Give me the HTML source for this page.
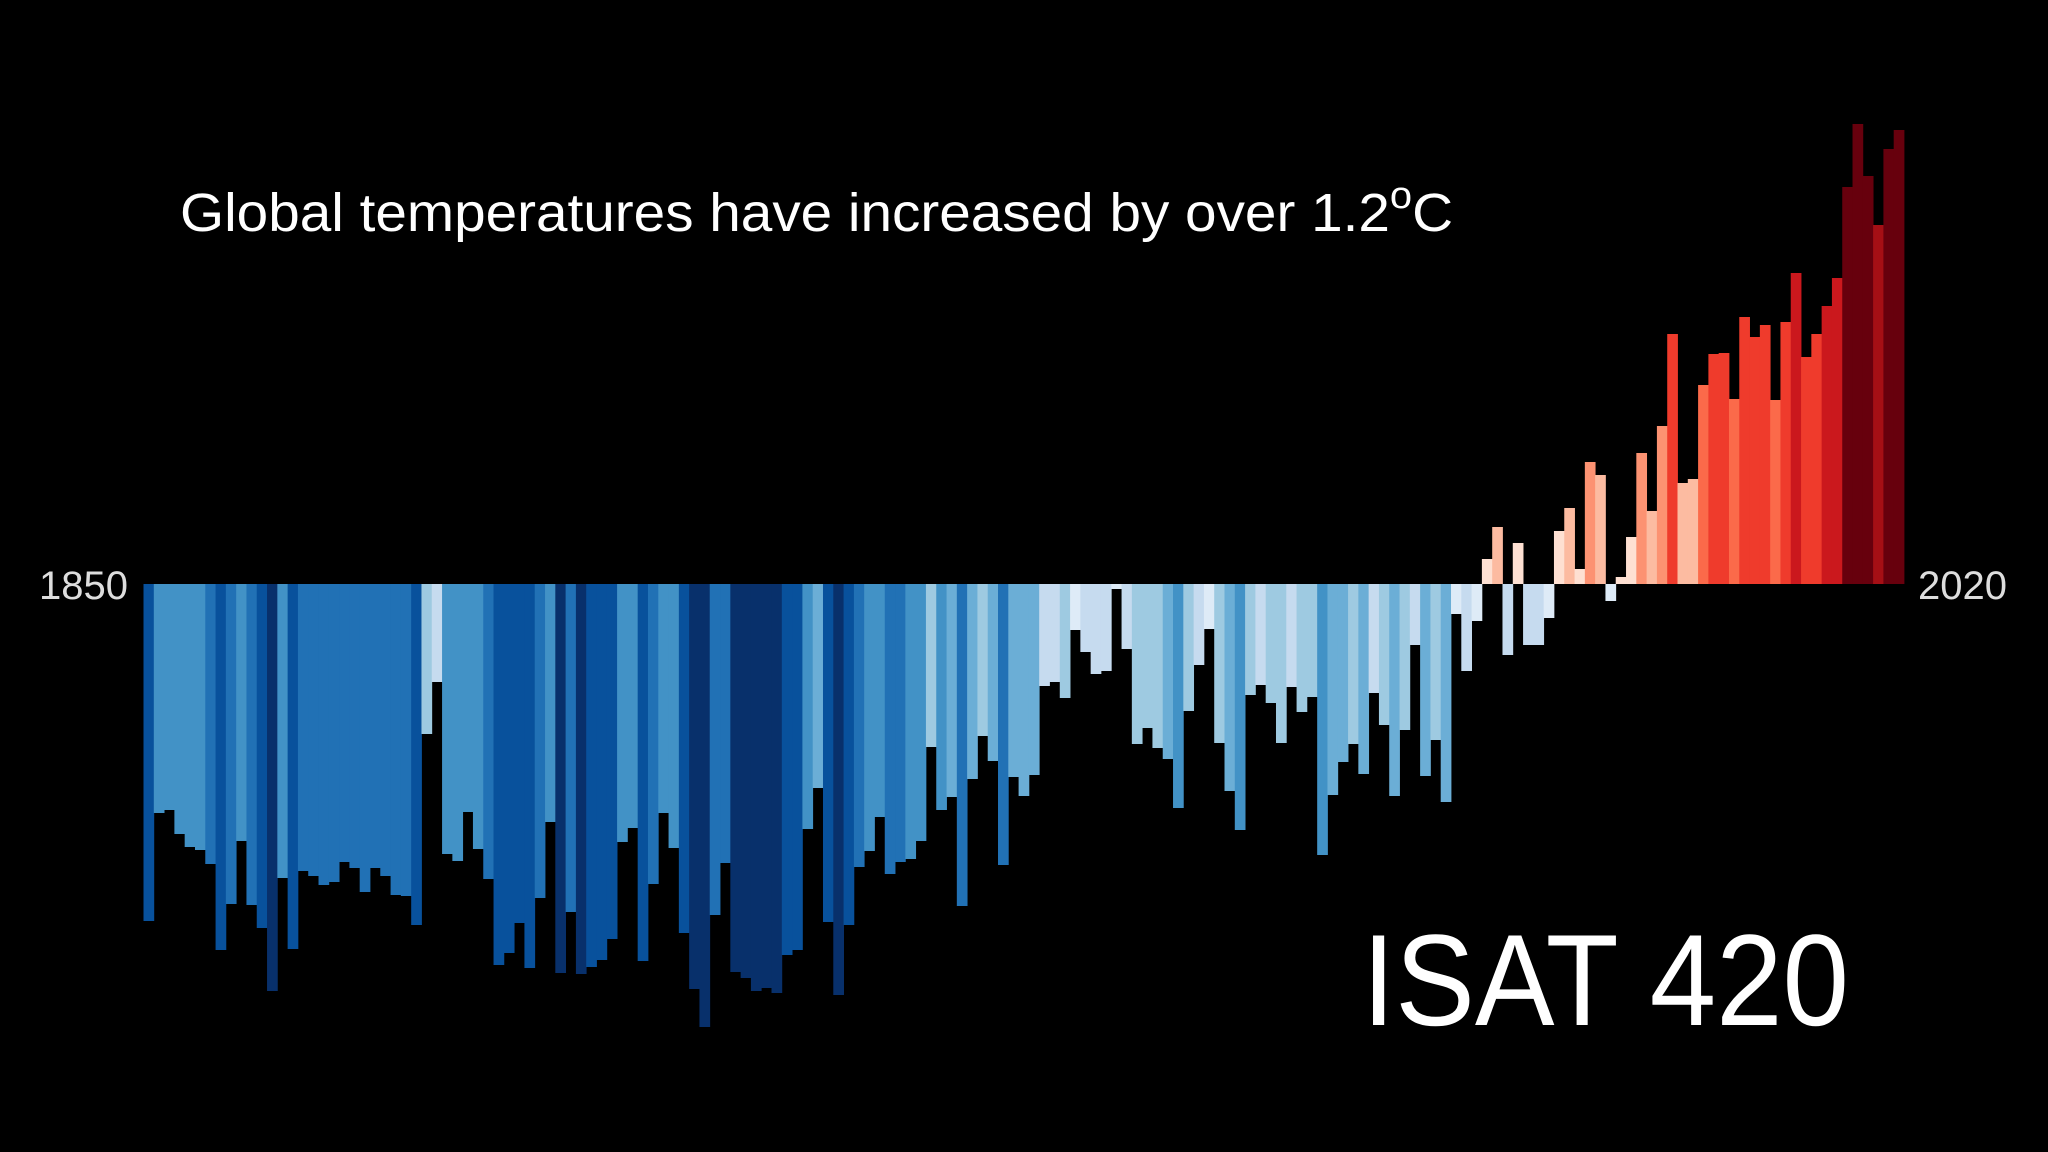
<!DOCTYPE html>
<html><head><meta charset="utf-8"><style>
html,body{margin:0;padding:0;background:#000;width:2048px;height:1152px;overflow:hidden}
svg{display:block}
</style></head><body>
<svg id="s" width="2048" height="1152" viewBox="0 0 2048 1152" xmlns="http://www.w3.org/2000/svg">
<rect width="2048" height="1152" fill="#000"/>
<g id="bars"></g>
<text x="180" y="231" fill="#fff" font-family="Liberation Sans, sans-serif" font-size="54" textLength="1273" lengthAdjust="spacingAndGlyphs">Global temperatures have increased by over 1.2<tspan font-size="38" dy="-23">o</tspan><tspan dy="23">C</tspan></text>
<text x="128" y="599" fill="#ddd" font-family="Liberation Sans, sans-serif" font-size="40" text-anchor="end">1850</text>
<text x="1918" y="599" fill="#ddd" font-family="Liberation Sans, sans-serif" font-size="40">2020</text>
<text x="1362" y="1025" fill="#fff" font-family="Liberation Sans, sans-serif" font-size="130" textLength="487" lengthAdjust="spacingAndGlyphs">ISAT 420</text>
</svg>
<script>
var Y=[921,813,810,834,847,850,864,950,904,841,905,928,991,878,949,871,876,885,882,862,868,892,868,876,895,896,925,734,682,854,861,812,849,879,965,953,923,968,898,822,973,912,974,967,960,939,842,828,961,884,813,848,933,989,1027,915,863,972,978,991,988,993,955,950,829,788,922,995,925,867,851,817,874,862,859,841,747,810,797,906,779,736,761,865,777,796,775,686,682,698,630,652,674,671,589,649,744,728,748,759,808,711,665,629,743,791,830,695,685,703,743,687,712,697,855,795,762,744,774,693,725,796,730,645,776,740,802,614,671,621,559,527,655,543,645,645,618,531,508,569,462,475,601,577,537,453,511,426,334,483,479,385,354,353,399,317,337,325,400,322,273,357,334,306,278,187,124,176,225,149,130];
var B=["","#deebf7","#c6dbef","#9ecae1","#6baed6","#4292c6","#2171b5","#08519c","#08306b"];
var R=["","#fee0d2","#fcbba1","#fc9272","#fb6a4a","#ef3b2c","#cb181d","#a50f15","#67000d"];
var rc={130:1,131:2,133:1,137:1,138:2,139:1,140:3,141:2,143:1,144:1,145:3,146:2,147:3,148:5,149:2,150:2,151:4,152:5,153:5,154:4,155:5,156:5,157:5,158:4,159:5,160:6,161:5,162:5,163:6,164:6,165:8,166:8,167:8,168:7,169:8,170:8};
var bc={0:7,1:5,2:5,3:5,4:5,5:5,6:6,7:7,8:6,9:5,10:6,11:7,12:8,13:5,14:7,26:7,27:3,28:2,29:5,30:5,31:5,32:5,33:6,34:7,35:7,36:7,37:7,38:6,39:5,40:8,41:6,42:8,43:7,44:7,45:7,46:5,47:5,48:7,49:6,50:5,51:5,52:7,53:8,54:8,55:6,56:6,57:8,58:8,59:8,60:8,61:8,62:7,63:7,64:5,65:4,66:7,67:8,68:7,69:6,70:5,71:5,72:6,73:6,74:5,75:5,76:3,77:5,78:4,79:6,80:4,81:3,82:4,83:6,84:4,85:4,86:4,87:2,88:2,89:3,90:1,91:2,92:2,93:2,94:1,95:2,96:3,97:3,98:3,99:4,100:5,101:3,102:2,103:1,104:3,105:4,106:5,107:3,108:2,109:3,110:3,111:2,112:3,113:3,114:5,115:4,116:4,117:3,118:4,119:2,120:3,121:4,122:3,123:2,124:4,125:3,126:4,127:1,128:2,129:1,132:2,134:2,135:2,136:1,142:1};
for(var i=15;i<=25;i++)bc[i]=6;
var g=document.getElementById('bars'),ns="http://www.w3.org/2000/svg",base=584,w=1760.5/171;
for(var i=0;i<171;i++){
 var r=document.createElementNS(ns,'rect');
 var x=143.5+w*i,y=Y[i],col;
 if(rc[i]){col=R[rc[i]];r.setAttribute('y',y);r.setAttribute('height',base-y);}
 else{col=B[bc[i]||5];r.setAttribute('y',base);r.setAttribute('height',y-base);}
 r.setAttribute('x',x.toFixed(2));r.setAttribute('width',(w+0.4).toFixed(2));r.setAttribute('fill',col);
 g.appendChild(r);
}
</script>
</body></html>
